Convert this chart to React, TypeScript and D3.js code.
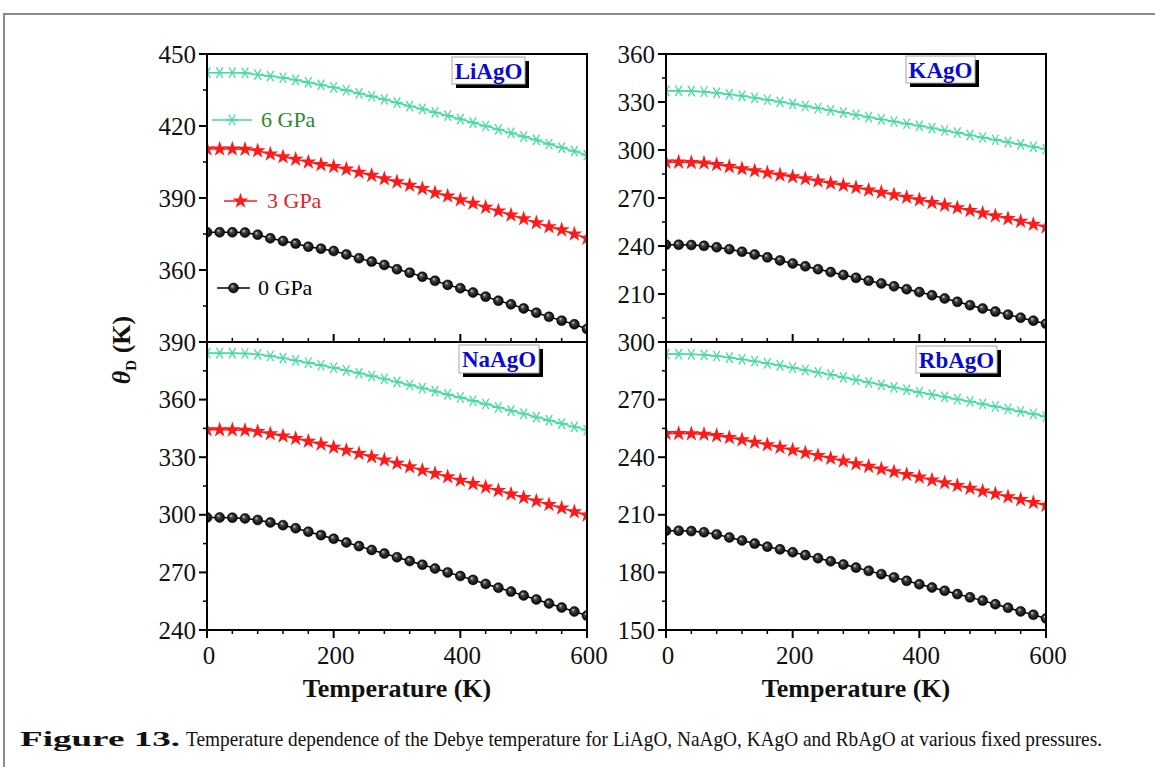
import React from "react";
import * as d3 from "d3";

// ---------- DATA ----------
const temperatures = [0, 20, 40, 60, 80, 100, 120, 140, 160, 180, 200, 220, 240, 260, 280, 300, 320, 340, 360, 380, 400, 420, 440, 460, 480, 500, 520, 540, 560, 580, 600];

const pressures = ["0 GPa", "3 GPa", "6 GPa"];

const liAgO_0 = [375.7, 375.7, 375.7, 375.6, 374.7, 373.2, 372.1, 371.0, 369.7, 368.9, 367.9, 366.5, 364.9, 363.5, 362.1, 360.3, 358.9, 357.2, 355.5, 353.8, 352.4, 350.6, 348.9, 347.2, 345.7, 344.0, 342.2, 340.5, 338.9, 337.4, 335.4];
const liAgO_3 = [410.4, 410.4, 410.4, 410.3, 409.7, 408.3, 407.2, 406.1, 405.0, 403.9, 403.1, 402.0, 400.7, 399.4, 398.0, 396.7, 395.3, 393.9, 392.2, 390.8, 389.2, 387.8, 386.1, 384.6, 382.9, 381.3, 379.7, 378.0, 376.7, 375.0, 373.2];
const liAgO_6 = [442.2, 442.2, 442.2, 442.1, 441.4, 440.8, 440.1, 439.2, 438.2, 437.1, 436.1, 434.9, 433.6, 432.4, 431.1, 429.7, 428.3, 427.1, 425.7, 424.3, 422.9, 421.4, 420.0, 418.6, 417.1, 415.6, 414.2, 412.5, 411.0, 409.5, 407.9];

const naAgO_0 = [298.6, 298.6, 298.5, 298.1, 297.3, 296.0, 294.6, 293.0, 291.2, 289.4, 287.5, 285.6, 283.7, 281.7, 279.8, 277.9, 275.9, 274.0, 272.0, 270.0, 268.1, 266.1, 264.0, 262.0, 260.0, 258.0, 255.9, 253.8, 251.7, 249.6, 247.5];
const naAgO_3 = [344.3, 344.3, 344.2, 344.0, 343.4, 342.2, 341.0, 339.7, 338.3, 336.8, 335.2, 333.6, 331.9, 330.2, 328.5, 326.8, 325.0, 323.2, 321.5, 319.8, 318.0, 316.2, 314.4, 312.6, 310.8, 309.0, 307.2, 305.3, 303.5, 301.6, 299.8];
const naAgO_6 = [384.2, 384.2, 384.2, 384.0, 383.6, 382.7, 381.6, 380.4, 379.2, 377.9, 376.6, 375.2, 373.8, 372.3, 370.8, 369.2, 367.6, 366.0, 364.4, 362.7, 361.1, 359.4, 357.7, 356.0, 354.3, 352.6, 350.9, 349.2, 347.5, 345.8, 344.1];

const kAgO_0 = [240.8, 240.8, 240.6, 240.1, 239.2, 238.0, 236.4, 234.7, 232.9, 231.0, 229.1, 227.3, 225.5, 223.7, 221.9, 220.1, 218.3, 216.6, 214.8, 213.0, 211.2, 209.2, 207.2, 205.1, 203.0, 200.9, 199.0, 197.1, 195.2, 193.3, 191.4];
const kAgO_3 = [292.4, 292.4, 292.2, 291.8, 290.9, 289.6, 288.3, 287.0, 285.7, 284.4, 283.3, 282.0, 280.6, 279.2, 277.9, 276.5, 275.0, 273.5, 272.0, 270.4, 268.8, 267.1, 265.5, 263.9, 262.2, 260.5, 258.8, 257.1, 255.4, 253.6, 251.9];
const kAgO_6 = [337.0, 337.0, 336.8, 336.4, 335.7, 334.8, 333.8, 332.6, 331.4, 330.1, 328.8, 327.5, 326.1, 324.8, 323.4, 322.0, 320.6, 319.2, 317.8, 316.4, 315.1, 313.7, 312.2, 310.8, 309.3, 307.8, 306.4, 304.9, 303.5, 302.0, 300.6];

const rbAgO_0 = [201.7, 201.7, 201.5, 200.9, 199.8, 198.2, 196.6, 195.0, 193.4, 192.0, 190.5, 189.0, 187.4, 185.8, 184.1, 182.5, 180.8, 179.1, 177.4, 175.6, 173.8, 172.1, 170.4, 168.7, 167.0, 165.3, 163.4, 161.6, 159.7, 157.9, 156.0];
const rbAgO_3 = [252.3, 252.3, 252.2, 251.9, 251.2, 250.2, 249.0, 247.8, 246.5, 245.1, 243.7, 242.3, 240.9, 239.4, 238.0, 236.6, 235.2, 233.8, 232.4, 231.0, 229.6, 228.1, 226.7, 225.2, 223.8, 222.3, 220.9, 219.4, 217.9, 216.4, 214.9];
const rbAgO_6 = [293.7, 293.7, 293.6, 293.3, 292.7, 291.9, 291.0, 290.0, 288.9, 287.8, 286.6, 285.4, 284.2, 283.0, 281.6, 280.3, 279.0, 277.7, 276.4, 275.1, 273.8, 272.6, 271.4, 270.2, 269.0, 267.7, 266.4, 265.1, 263.8, 262.5, 261.2];

const xTicks = [0, 200, 400, 600];
const xMinorTicks = [40, 80, 120, 160, 240, 280, 320, 360, 440, 480, 520, 560];

const liAgOYTicks = [330, 360, 390, 420, 450];
const naAgOYTicks = [240, 270, 300, 330, 360, 390];
const kAgOYTicks = [180, 210, 240, 270, 300, 330, 360];
const rbAgOYTicks = [150, 180, 210, 240, 270, 300];

const xTitle = "Temperature (K)";
const caption_bold = "Figure 13.";
const caption_text = "Temperature dependence of the Debye temperature for LiAgO, NaAgO, KAgO and RbAgO at various fixed pressures.";

// ---------- STYLE / LAYOUT ----------
const COLORS = ["#000000", "#ff1a1a", "#45dba3"];
const LEGEND_TEXT = ["#000000", "#e02525", "#2a8a2a"];
const PW = 380;
const PH = 288;
const SERIF = "'Liberation Serif', 'Times New Roman', serif";

type PanelDef = {
  name: string;
  left: number;
  top: number;
  yTicks: number[];
  series: number[][];
  bottomRow: boolean;
  box: { x: number; y: number; w: number; h: number };
  legend: boolean;
};

const panels: PanelDef[] = [
  { name: "LiAgO", left: 207, top: 54, yTicks: liAgOYTicks, series: [liAgO_0, liAgO_3, liAgO_6], bottomRow: false, box: { x: 452, y: 57, w: 73, h: 27 }, legend: true },
  { name: "KAgO", left: 666, top: 54, yTicks: kAgOYTicks, series: [kAgO_0, kAgO_3, kAgO_6], bottomRow: false, box: { x: 906, y: 56, w: 69, h: 27 }, legend: false },
  { name: "NaAgO", left: 207, top: 342, yTicks: naAgOYTicks, series: [naAgO_0, naAgO_3, naAgO_6], bottomRow: true, box: { x: 459, y: 345, w: 80, h: 28 }, legend: false },
  { name: "RbAgO", left: 666, top: 342, yTicks: rbAgOYTicks, series: [rbAgO_0, rbAgO_3, rbAgO_6], bottomRow: true, box: { x: 916, y: 346, w: 81, h: 27 }, legend: false },
];

const starPath = d3.symbol(d3.symbolStar, 78)() as string;

function asteriskPath(r: number) {
  const a = (Math.PI / 180) * 58;
  const dx = r * Math.cos(a);
  const dy = r * Math.sin(a);
  return `M${-r},0L${r},0M${-dx},${-dy}L${dx},${dy}M${-dx},${dy}L${dx},${-dy}`;
}

function Marker({ kind, x, y }: { kind: number; x: number; y: number }) {
  if (kind === 0) {
    return <circle cx={x} cy={y} r={5} fill="url(#sphere)" stroke="#000" strokeWidth={0.5} />;
  }
  if (kind === 1) {
    return <path d={starPath} transform={`translate(${x},${y})`} fill={COLORS[1]} />;
  }
  return <path d={asteriskPath(6.2)} transform={`translate(${x},${y})`} fill="none" stroke={COLORS[2]} strokeWidth={1.3} />;
}

function Panel({ p, idx }: { p: PanelDef; idx: number }) {
  const yMin = p.yTicks[0];
  const yMax = p.yTicks[p.yTicks.length - 1];
  const x = d3.scaleLinear().domain([0, 600]).range([p.left, p.left + PW]);
  const y = d3.scaleLinear().domain([yMin, yMax]).range([p.top + PH, p.top]);
  const line = d3
    .line<number>()
    .x((_, i) => x(temperatures[i]))
    .y((d) => y(d));
  const yMinor = p.yTicks.slice(0, -1).map((v, i) => (v + p.yTicks[i + 1]) / 2);
  const labels = p.bottomRow ? p.yTicks : p.yTicks.slice(1);
  const clipId = `clip${idx}`;
  const bottomY = p.top + PH;
  const dir = p.bottomRow ? 1 : -1;

  return (
    <g>
      <clipPath id={clipId}>
        <rect x={p.left} y={p.top} width={PW} height={PH} />
      </clipPath>
      <g clipPath={`url(#${clipId})`}>
        {p.series.map((s, k) => (
          <g key={k}>
            <path d={line(s) as string} fill="none" stroke={COLORS[k]} strokeWidth={1.5} />
            {s.map((v, i) => (
              <Marker key={i} kind={k} x={x(temperatures[i])} y={y(v)} />
            ))}
          </g>
        ))}
      </g>
      <rect x={p.left} y={p.top} width={PW} height={PH} fill="none" stroke="#000" strokeWidth={2} />
      {p.yTicks.map((v) => (
        <line key={"ym" + v} x1={p.left - 8} x2={p.left} y1={y(v)} y2={y(v)} stroke="#000" strokeWidth={2} />
      ))}
      {yMinor.map((v) => (
        <line key={"yn" + v} x1={p.left - 4} x2={p.left} y1={y(v)} y2={y(v)} stroke="#000" strokeWidth={1.5} />
      ))}
      {labels.map((v) => (
        <text key={"yl" + v} x={p.left - 11} y={y(v)} dy="0.34em" textAnchor="end" fontFamily={SERIF} fontSize={25} fill="#111">
          {v}
        </text>
      ))}
      {xTicks.map((v) => (
        <line key={"xm" + v} x1={x(v)} x2={x(v)} y1={bottomY} y2={bottomY + dir * 8} stroke="#000" strokeWidth={2} />
      ))}
      {xMinorTicks.map((v) => (
        <line key={"xn" + v} x1={x(v)} x2={x(v)} y1={bottomY} y2={bottomY + dir * 4} stroke="#000" strokeWidth={1.5} />
      ))}
      {p.bottomRow &&
        xTicks.map((v) => (
          <text key={"xl" + v} x={x(v) + 2} y={bottomY + 34} textAnchor="middle" fontFamily={SERIF} fontSize={25} fill="#111">
            {v}
          </text>
        ))}
      {p.bottomRow && (
        <text x={p.left + PW / 2} y={bottomY + 67} textAnchor="middle" fontFamily={SERIF} fontWeight="bold" fontSize={26} fill="#111">
          {xTitle}
        </text>
      )}
      <rect x={p.box.x + 4} y={p.box.y + 4} width={p.box.w} height={p.box.h} fill="#000" />
      <rect x={p.box.x} y={p.box.y} width={p.box.w} height={p.box.h} fill="#fff" stroke="#a8a8a8" strokeWidth={1} />
      <text x={p.box.x + p.box.w / 2} y={p.box.y + p.box.h / 2} dy="0.35em" textAnchor="middle" fontFamily={SERIF} fontWeight="bold" fontSize={23} fill="#0a0ad0">
        {p.name}
      </text>
      {p.legend && <Legend />}
    </g>
  );
}

function Legend() {
  const rows = [
    { k: 2, y: 120, x1: 212, x2: 252, tx: 261 },
    { k: 1, y: 201, x1: 224, x2: 257, tx: 267 },
    { k: 0, y: 288, x1: 217, x2: 250, tx: 258 },
  ];
  return (
    <g>
      {rows.map((r) => (
        <g key={r.k}>
          <line x1={r.x1} x2={r.x2} y1={r.y} y2={r.y} stroke={COLORS[r.k]} strokeWidth={1.5} />
          <Marker kind={r.k} x={(r.x1 + r.x2) / 2} y={r.y} />
          <text x={r.tx} y={r.y} dy="0.34em" fontFamily={SERIF} fontSize={22} fill={LEGEND_TEXT[r.k]}>
            {pressures[r.k]}
          </text>
        </g>
      ))}
    </g>
  );
}

export default function App() {
  return (
    <svg width={1155} height={767} style={{ position: "absolute", left: 0, top: 0, background: "#fff" }}>
      <defs>
        <radialGradient id="sphere" cx="0.5" cy="0.5" r="0.5" fx="0.35" fy="0.3">
          <stop offset="0%" stopColor="#d8d8d8" />
          <stop offset="35%" stopColor="#444" />
          <stop offset="100%" stopColor="#000" />
        </radialGradient>
      </defs>
      <rect x={0} y={0} width={1155} height={767} fill="#fff" />
      <rect x={4} y={14} width={1300} height={900} fill="none" stroke="#8a8a8a" strokeWidth={2} />
      {panels.map((p, i) => (
        <Panel key={p.name} p={p} idx={i} />
      ))}
      <text transform="translate(130,350) rotate(-90)" textAnchor="middle" fontFamily={SERIF} fontWeight="bold" fontSize={26} fill="#111">
        <tspan fontStyle="italic">θ</tspan>
        <tspan fontSize={15} dy={6}>D</tspan>
        <tspan dy={-6}> (K)</tspan>
      </text>
      <text x={20} y={746} fontFamily={SERIF} fontWeight="bold" fontSize={22} textLength={160} lengthAdjust="spacingAndGlyphs" fill="#111">
        {caption_bold}
      </text>
      <text x={186} y={746} fontFamily={SERIF} fontSize={21} textLength={916} lengthAdjust="spacingAndGlyphs" fill="#111">
        {caption_text}
      </text>
    </svg>
  );
}
